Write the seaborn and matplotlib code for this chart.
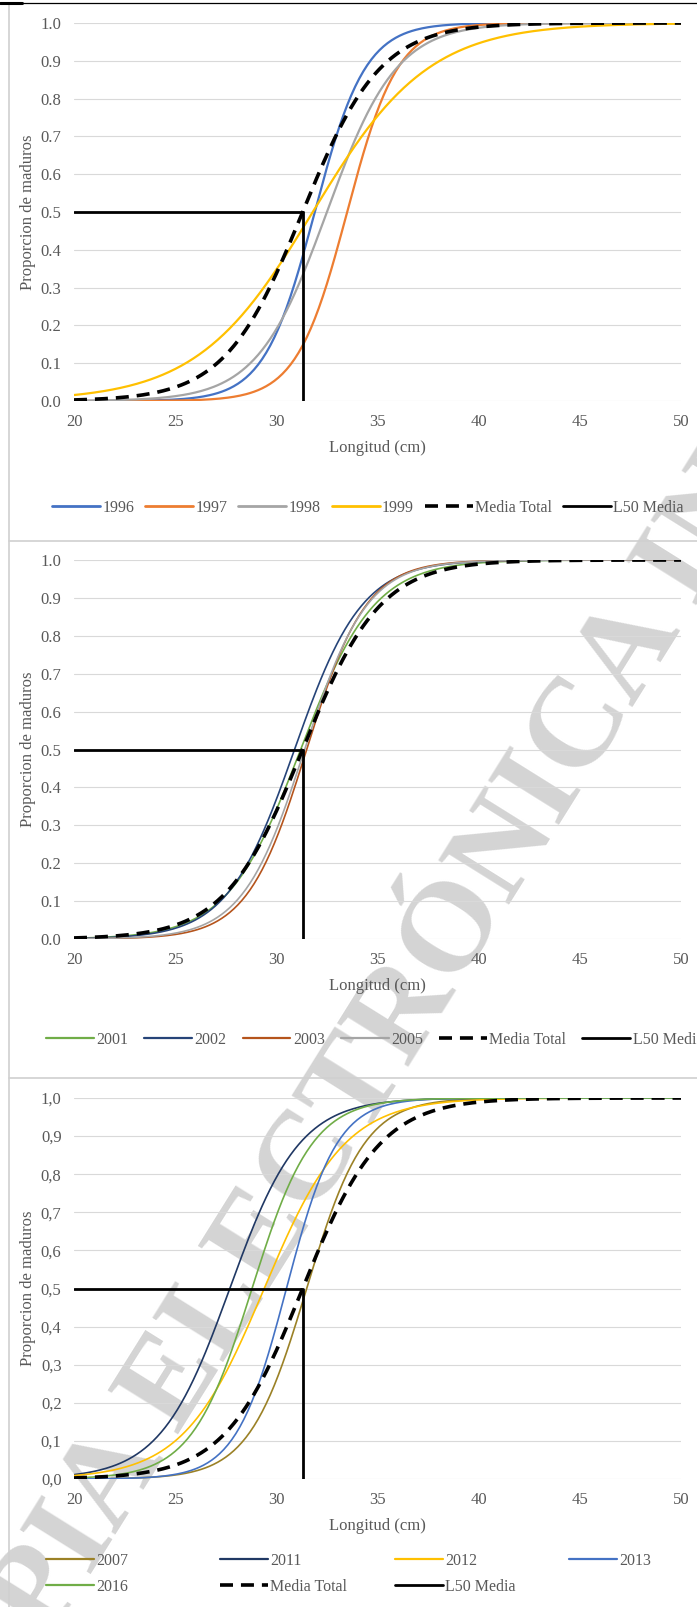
import numpy as np
import pandas as pd
import matplotlib
matplotlib.use("Agg")
import matplotlib.pyplot as plt
from matplotlib.lines import Line2D
import seaborn as sns

# Rango de longitudes (cm) de las ojivas de madurez
long_min, long_max = 20, 50

# Ajustes logísticos por año: L50 (cm) y pendiente (1/cm)
anios_a = ["1996", "1997", "1998", "1999"]
l50_a = [31.9, 33.5, 32.5, 31.8]
pend_a = [0.80, 0.80, 0.58, 0.35]
col_a = ["#4472C4", "#ED7D31", "#A5A5A5", "#FFC000"]

anios_b = ["2001", "2002", "2003", "2005"]
l50_b = [31.2, 30.9, 31.5, 31.4]
pend_b = [0.55, 0.60, 0.68, 0.65]
col_b = ["#70AD47", "#264478", "#B5541C", "#A5A5A5"]

anios_c = ["2007", "2011", "2012", "2013", "2016"]
l50_c = [31.5, 27.7, 29.4, 30.5, 28.8]
pend_c = [0.70, 0.58, 0.50, 0.80, 0.67]
col_c = ["#9B8126", "#203864", "#FFC000", "#4472C4", "#70AD47"]

# Ojiva media total y su L50
l50_media = 31.3
pend_media = 0.52

yticks = [0.0, 0.1, 0.2, 0.3, 0.4, 0.5, 0.6, 0.7, 0.8, 0.9, 1.0]
xticks = [20, 25, 30, 35, 40, 45, 50]

TXT = "#595959"
FS = 12
W, H = 697, 1607

sns.set_theme(style="white")
plt.rcParams["font.family"] = ["Liberation Serif", "DejaVu Serif"]
plt.rcParams["axes.facecolor"] = "none"

longitudes = np.linspace(long_min, long_max, 301)


def ojiva(l50, k):
    return 1.0 / (1.0 + np.exp(-k * (longitudes - l50)))


def tabla(anios, l50s, pends):
    filas = []
    for a, l, k in zip(anios, l50s, pends):
        filas.append(pd.DataFrame({"Longitud": longitudes, "p": ojiva(l, k), "Año": a}))
    return pd.concat(filas, ignore_index=True)


fig = plt.figure(figsize=(W / 100, H / 100), dpi=100)
fig.patch.set_facecolor("white")


def rect(top, bottom, left=74, right=681):
    return [left / W, 1 - bottom / H, (right - left) / W, (bottom - top) / H]


paneles = [
    (anios_a, l50_a, pend_a, col_a, (23, 401), ".", 1.6),
    (anios_b, l50_b, pend_b, col_b, (560, 939), ".", 1.2),
    (anios_c, l50_c, pend_c, col_c, (1098, 1479), ",", 1.2),
]

ejes = []
for anios, l50s, pends, cols, (top, bot), sep, lw in paneles:
    ax = fig.add_axes(rect(top, bot))
    df = tabla(anios, l50s, pends)
    sns.lineplot(data=df, x="Longitud", y="p", hue="Año", palette=dict(zip(anios, cols)),
                 linewidth=lw, legend=False, ax=ax, zorder=3)
    media = pd.DataFrame({"Longitud": longitudes, "p": ojiva(l50_media, pend_media)})
    sns.lineplot(data=media, x="Longitud", y="p", color="black", linewidth=2.6,
                 ax=ax, zorder=4).lines[-1].set_dashes((3.6, 2.2))
    l50_df = pd.DataFrame({"Longitud": [long_min, l50_media, l50_media], "p": [0.5, 0.5, 0.0]})
    sns.lineplot(data=l50_df, x="Longitud", y="p", sort=False, estimator=None,
                 color="black", linewidth=2.0, ax=ax, zorder=5)
    ax.set_xlim(long_min, long_max)
    ax.set_ylim(0, 1)
    ax.set_xticks(xticks)
    ax.set_yticks(yticks)
    ax.set_yticklabels([f"{v:.1f}".replace(".", sep) for v in yticks])
    ax.set_xticklabels([str(v) for v in xticks])
    ax.tick_params(length=0, labelsize=FS, labelcolor=TXT)
    ax.tick_params(axis="y", pad=9)
    ax.tick_params(axis="x", pad=9)
    ax.grid(axis="y", color="#D9D9D9", linewidth=0.8)
    ax.set_axisbelow(True)
    for s in ax.spines.values():
        s.set_visible(False)
    ax.set_xlabel("Longitud (cm)", fontsize=FS, color=TXT)
    ax.set_ylabel("Proporcion de maduros", fontsize=FS, color=TXT)
    ax.xaxis.set_label_coords(0.5, -39 / (bot - top))
    ax.yaxis.set_label_coords((36 - 74) / 607, 0.5)
    ejes.append((ax, anios, cols, lw))


def manejadores(anios, cols, lw):
    hs = [Line2D([], [], color=c, linewidth=lw + 0.4) for c in cols]
    hs.append(Line2D([], [], color="black", linewidth=2.6, dashes=(3.6, 2.2)))
    hs.append(Line2D([], [], color="black", linewidth=2.0))
    return hs, list(anios) + ["Media Total", "L50 Media"]


leg_kw = dict(frameon=False, fontsize=11.5, handlelength=3.0, handletextpad=0.15,
              labelcolor=TXT, borderpad=0, borderaxespad=0)

hs, labs = manejadores(ejes[0][1], ejes[0][2], ejes[0][3])
fig.legend(hs, labs, loc="center", bbox_to_anchor=(368 / W, 1 - 508 / H), ncol=6,
           columnspacing=0.68, **leg_kw)

hs, labs = manejadores(ejes[1][1], ejes[1][2], ejes[1][3])
fig.legend(hs, labs, loc="center left", bbox_to_anchor=(46 / W, 1 - 1040 / H), ncol=6,
           columnspacing=1.0, **leg_kw)

hs, labs = manejadores(ejes[2][1], ejes[2][2], ejes[2][3])
orden = [[0, 4], [1, 5], [2, 6], [3]]
for xi, idx in zip([46, 220, 395, 569], orden):
    fig.legend([hs[i] for i in idx], [labs[i] for i in idx], loc="upper left",
               bbox_to_anchor=(xi / W, 1 - 1553 / H), ncol=1, labelspacing=0.6, **leg_kw)

# Marcos de los tres paneles
for y in (541, 1078):
    fig.add_artist(Line2D([9 / W, 1], [1 - y / H] * 2, color="#D0D0D0", linewidth=1.2))
fig.add_artist(Line2D([9 / W, 9 / W], [0, 1 - 4 / H], color="#D0D0D0", linewidth=1.2))
fig.add_artist(Line2D([0, 1], [1 - 3 / H] * 2, color="black", linewidth=0.9))
fig.add_artist(Line2D([0, 22 / W], [1 - 3 / H] * 2, color="black", linewidth=2.2))

# Marca de agua
fig.text(-80 / W, 1 - 1790 / H, "COPIA ELECTRÓNICA INFORMATIVA", rotation=58,
         rotation_mode="anchor", ha="left", va="center", fontsize=92, fontweight="bold",
         color="#D4D4D4", zorder=-1)

fig.savefig("out.png", dpi=100)
